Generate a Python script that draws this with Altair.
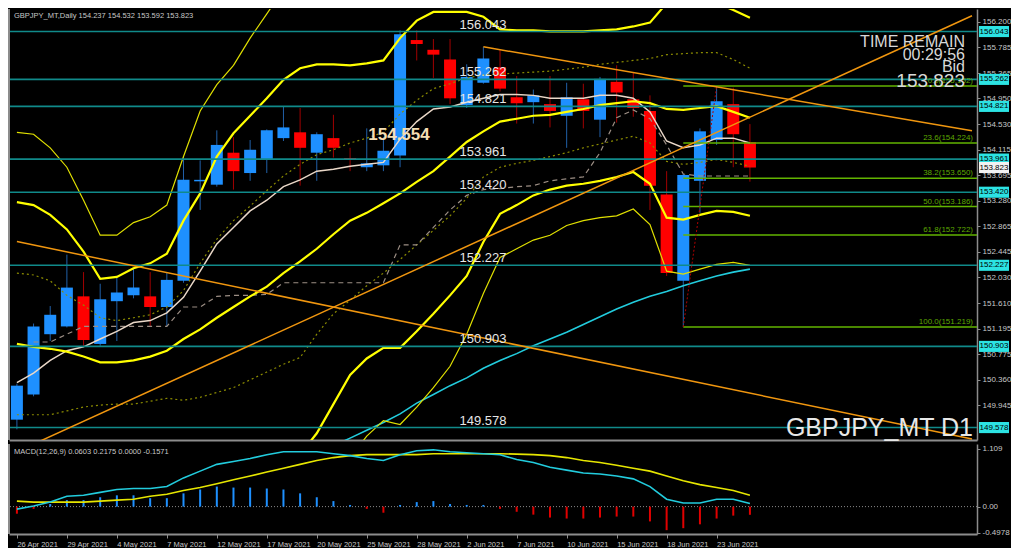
import altair as alt
import pandas as pd

# ---------------- data ----------------
DATE_LABELS = ["26 Apr 2021", "29 Apr 2021", "4 May 2021", "7 May 2021", "12 May 2021",
               "17 May 2021", "20 May 2021", "25 May 2021", "28 May 2021", "2 Jun 2021",
               "7 Jun 2021", "10 Jun 2021", "15 Jun 2021", "18 Jun 2021", "23 Jun 2021"]
DATE_TICKS = [0, 3, 6, 9, 12, 15, 18, 21, 24, 27, 30, 33, 36, 39, 42]

OPEN = [149.707, 150.119, 151.102, 151.229, 151.720, 150.943, 151.641, 151.736, 151.720, 151.546,
        151.974, 153.598, 153.543, 154.065, 153.733, 153.955, 154.303, 154.398, 154.065, 154.303,
        153.978, 153.828, 153.859, 154.018, 155.904, 155.745, 155.587, 154.842, 155.207, 155.460,
        154.969, 154.890, 154.858, 154.668, 154.937, 154.604, 155.222, 154.937, 154.747, 153.384,
        151.974, 153.606, 154.272, 154.858, 154.237]
HIGH = [150.294, 151.276, 151.562, 152.401, 152.116, 151.926, 152.021, 152.164, 152.116, 152.116,
        154.002, 153.939, 154.430, 154.319, 154.272, 154.446, 154.826, 154.795, 154.398, 154.684,
        154.145, 154.462, 154.319, 156.062, 156.062, 155.920, 155.920, 155.508, 155.793, 155.745,
        155.317, 155.096, 155.317, 155.207, 155.191, 155.302, 155.492, 155.381, 155.001, 153.764,
        153.717, 154.462, 155.152, 155.127, 154.532]
LOW = [149.549, 150.088, 150.991, 151.213, 150.912, 150.912, 150.991, 151.688, 151.229, 151.229,
       151.942, 153.131, 153.511, 153.463, 153.606, 153.733, 154.256, 153.527, 153.606, 153.986,
       153.764, 153.764, 153.764, 153.828, 155.571, 155.286, 154.858, 154.795, 155.191, 155.064,
       154.541, 154.541, 154.478, 154.145, 154.462, 154.319, 154.557, 154.652, 153.130, 152.053,
       151.219, 153.083, 154.192, 153.828, 153.592]
CLOSE = [150.262, 151.229, 151.419, 151.863, 151.007, 151.672, 151.783, 151.863, 151.546, 151.989,
         153.622, 153.622, 154.192, 153.764, 154.113, 154.430, 154.478, 154.145, 154.367, 154.145,
         153.962, 153.891, 154.097, 155.999, 155.840, 155.666, 154.953, 155.302, 155.603, 155.111,
         154.874, 155.001, 154.747, 154.969, 154.747, 155.270, 155.048, 154.795, 153.527, 152.100,
         153.701, 154.414, 154.905, 154.367, 153.823]

BB_UPPER = [153.257, 153.210, 153.051, 152.813, 152.449, 152.005, 152.037, 152.180, 152.259, 152.417,
            152.956, 153.400, 154.002, 154.382, 154.668, 154.953, 155.254, 155.444, 155.508, 155.508,
            155.492, 155.524, 155.571, 155.936, 156.221, 156.363, 156.363, 156.363, 156.284, 156.078,
            156.062, 156.062, 156.046, 156.046, 156.046, 156.062, 156.078, 156.126, 156.189, 156.506,
            156.569, 156.538, 156.506, 156.395, 156.268]
BB_MID = [150.943, 150.896, 150.864, 150.817, 150.737, 150.642, 150.642, 150.674, 150.737, 150.833,
          151.023, 151.181, 151.371, 151.546, 151.720, 151.878, 152.100, 152.291, 152.497, 152.734,
          152.956, 153.083, 153.241, 153.400, 153.590, 153.764, 154.002, 154.240, 154.414, 154.573,
          154.620, 154.668, 154.684, 154.731, 154.779, 154.842, 154.874, 154.905, 154.874, 154.779,
          154.763, 154.795, 154.826, 154.731, 154.636]
BB_LOWER = [148.630, 148.582, 148.677, 148.820, 149.026, 149.279, 149.248, 149.168, 149.216, 149.248,
            149.089, 148.962, 148.741, 148.709, 148.772, 148.804, 148.947, 149.137, 149.485, 149.961,
            150.436, 150.706, 150.880, 150.880, 151.149, 151.435, 151.736, 152.053, 152.607, 153.067,
            153.210, 153.368, 153.463, 153.527, 153.558, 153.606, 153.669, 153.749, 153.558, 153.004,
            152.972, 153.051, 153.115, 153.099, 153.035]
BB1_UPPER = [152.100, 152.069, 151.974, 151.736, 151.577, 151.371, 151.324, 151.371, 151.419, 151.546,
             151.815, 152.259, 152.655, 152.956, 153.194, 153.447, 153.685, 153.875, 154.034, 154.113,
             154.224, 154.303, 154.398, 154.699, 154.921, 155.111, 155.191, 155.286, 155.333, 155.349,
             155.365, 155.381, 155.397, 155.428, 155.460, 155.508, 155.539, 155.571, 155.603, 155.666,
             155.682, 155.698, 155.698, 155.587, 155.444]
BB1_LOWER = [149.787, 149.787, 149.787, 149.850, 149.913, 149.945, 149.961, 149.961, 150.008, 150.056,
             150.024, 150.072, 150.151, 150.230, 150.357, 150.484, 150.611, 150.722, 151.102, 151.435,
             151.657, 151.894, 152.100, 152.322, 152.560, 152.798, 153.035, 153.321, 153.669, 153.828,
             153.891, 153.939, 154.002, 154.065, 154.145, 154.208, 154.272, 154.335, 154.224, 153.923,
             153.875, 153.907, 153.955, 153.907, 153.844]
ENV_UPPER_START = 0
ENV_UPPER = [154.398, 154.367, 154.145, 153.828, 153.289, 152.718, 152.718, 152.924, 153.020, 153.210,
             154.002, 154.747, 155.175, 155.492, 155.936, 156.332, 156.728, 157.045]
ENV_LOWER_START = 20
ENV_LOWER = [149.089, 149.438, 149.691, 149.628, 149.913, 150.230, 150.579, 151.102, 151.768, 152.354,
             152.497, 152.639, 152.718, 152.877, 152.956, 153.004, 153.035, 153.146, 152.893, 152.132,
             152.084, 152.164, 152.243, 152.275, 152.227]
MA_FAST = [150.310, 150.468, 150.674, 150.833, 150.896, 151.023, 151.149, 151.292, 151.324, 151.451,
           151.704, 152.132, 152.576, 152.845, 153.115, 153.289, 153.511, 153.622, 153.764, 153.796,
           153.844, 153.875, 153.907, 154.287, 154.573, 154.779, 154.810, 154.890, 154.953, 155.016,
           155.016, 155.001, 154.953, 154.953, 154.953, 155.001, 155.001, 154.953, 154.731, 154.256,
           154.145, 154.192, 154.303, 154.303, 154.224]
KIJUN_START = 1
KIJUN = [150.975, 150.975, 151.102, 151.229, 151.229, 151.229, 151.229, 151.229, 151.229, 151.546,
         151.546, 151.720, 151.736, 151.736, 151.752, 151.942, 151.942, 151.942, 151.942, 151.942,
         151.942, 151.942, 152.560, 152.560, 152.845, 153.130, 153.368, 153.463, 153.479, 153.511,
         153.527, 153.606, 153.638, 153.669, 154.065, 154.636, 154.763, 154.620, 154.192, 153.717,
         153.685, 153.685, 153.685, 153.685]
MA_SLOW_START = 19
MA_SLOW = [149.279, 149.406, 149.533, 149.660, 149.802, 149.977, 150.119, 150.262, 150.389, 150.547,
           150.674, 150.785, 150.912, 151.023, 151.134, 151.260, 151.387, 151.514, 151.625, 151.720,
           151.799, 151.894, 151.974, 152.053, 152.116, 152.164]

TREND_DOWN_LONG_I = [0, 57.33]
TREND_DOWN_LONG_V = [152.614, 149.390]
TREND_UP_I = [0, 57.33]
TREND_UP_V = [149.184, 156.300]
TREND_DOWN_SHORT_I = [28, 57.33]
TREND_DOWN_SHORT_V = [155.793, 154.425]

LEVELS = [156.043, 155.262, 154.821, 153.961, 153.420, 152.227, 150.903, 149.578]
MARK_LABEL = 154.554
FIB_START = 40
FIB_SWING_I = [40, 42]
FIB_SWING_V = [151.219, 155.152]
FIB_PCT = ["0.0", "23.6", "38.2", "50.0", "61.8", "100.0"]
FIB_PRICE = [155.152, 154.224, 153.650, 153.186, 152.722, 151.219]

PRICE_TICKS = [156.200, 155.785, 155.365, 154.950, 154.530, 154.115, 153.695, 153.280, 152.865,
               152.445, 152.030, 151.610, 151.195, 150.775, 150.360, 149.945]

MACD_MAIN = [-0.048, 0.013, 0.087, 0.199, 0.217, 0.273, 0.329, 0.348, 0.348, 0.385,
             0.552, 0.682, 0.812, 0.868, 0.924, 0.998, 1.054, 1.054, 1.054, 1.017,
             0.980, 0.924, 0.887, 0.998, 1.073, 1.091, 1.054, 1.035, 1.017, 0.998,
             0.905, 0.849, 0.756, 0.701, 0.645, 0.626, 0.589, 0.533, 0.385, 0.143,
             0.069, 0.069, 0.143, 0.143, 0.0603]
MACD_SIGNAL = [0.106, 0.087, 0.087, 0.087, 0.087, 0.106, 0.125, 0.143, 0.199, 0.236,
               0.310, 0.366, 0.441, 0.515, 0.589, 0.664, 0.738, 0.812, 0.887, 0.942,
               0.980, 0.998, 0.998, 0.998, 0.998, 1.017, 1.017, 1.017, 1.017, 1.017,
               1.008, 0.998, 0.980, 0.942, 0.887, 0.849, 0.794, 0.738, 0.682, 0.589,
               0.496, 0.422, 0.366, 0.310, 0.2175]
MACD_HIST = [-0.136, -0.043, 0.050, 0.125, 0.125, 0.180, 0.217, 0.217, 0.162, 0.162,
             0.255, 0.329, 0.385, 0.366, 0.366, 0.348, 0.329, 0.255, 0.180, 0.106,
             0.032, -0.043, -0.117, 0.032, 0.087, 0.106, 0.050, 0.032, 0.032, -0.043,
             -0.099, -0.154, -0.210, -0.229, -0.229, -0.210, -0.191, -0.191, -0.284, -0.452,
             -0.414, -0.340, -0.229, -0.173, -0.1571]
MACD_TICKS = [1.109, 0.0, -0.4978]
MACD_TICK_LABELS = ["1.109", "0.00", "-0.4978"]

# ---------------- layout / style ----------------
W, H, MH = 968, 431, 90
XMIN, XMAX = -0.174, 57.33
YMIN, YMAX = 149.375, 156.411
MYMIN, MYMAX = -0.526, 1.203
FONT = "Liberation Sans"
NARROW = "Liberation Sans Narrow, Liberation Sans"
FRAME = "#8C8C8C"
LABEL = "#C8C8C8"

xs = alt.Scale(domain=[XMIN, XMAX], nice=False, zero=False)
ys = alt.Scale(domain=[YMIN, YMAX], nice=False, zero=False)
x_axis_main = alt.Axis(title=None, labels=False, ticks=False, grid=False,
                       domainColor=FRAME, domainWidth=2)
y_axis_main = alt.Axis(orient="right", title=None, values=PRICE_TICKS, format=".3f", grid=False,
                       labelColor=LABEL, labelFont=FONT, labelFontSize=8, labelPadding=2,
                       tickColor=FRAME, tickSize=3, domainColor=FRAME, domainWidth=1.5,
                       labelOverlap=False, labelBound=False, labelFlush=False)


def X(field="i"):
    return alt.X(f"{field}:Q", scale=xs, axis=x_axis_main)


def Y(field="v"):
    return alt.Y(f"{field}:Q", scale=ys, axis=y_axis_main)


def series(start, values):
    return pd.DataFrame({"i": list(range(start, start + len(values))), "v": values})


def line(df, color, width, dash=None):
    kw = dict(color=color, strokeWidth=width, clip=True)
    if dash:
        kw["strokeDash"] = dash
    return alt.Chart(df).mark_line(**kw).encode(x=X(), y=Y())


one = pd.DataFrame({"a": [0]})

# ---------------- main price panel ----------------
cdf = pd.DataFrame({"i": list(range(len(OPEN))), "o": OPEN, "h": HIGH, "l": LOW, "c": CLOSE})
cbase = alt.Chart(cdf)
UP, DOWN = "datum.c >= datum.o", "datum.c < datum.o"

layers = [
    cbase.transform_filter(UP).mark_rule(color="#2160A8", strokeWidth=1, clip=True)
    .encode(x=X(), y=Y("l"), y2="h"),
    cbase.transform_filter(DOWN).mark_rule(color="#A00000", strokeWidth=1, clip=True)
    .encode(x=X(), y=Y("l"), y2="h"),
    cbase.transform_filter(UP).mark_bar(size=12, color="#1E90FF", clip=True)
    .encode(x=X(), y=Y("o"), y2="c"),
    cbase.transform_filter(DOWN).mark_bar(size=12, color="#FF0000", clip=True)
    .encode(x=X(), y=Y("o"), y2="c"),
]

# indicators
layers += [
    line(series(0, BB1_UPPER), "#8C8C00", 1.2, [2, 3]),
    line(series(0, BB1_LOWER), "#8C8C00", 1.2, [2, 3]),
    line(series(KIJUN_START, KIJUN), "#9C8E84", 1.2, [5, 4]),
    line(series(MA_SLOW_START, MA_SLOW), "#22CCDD", 1.6),
    line(series(ENV_UPPER_START, ENV_UPPER), "#E0E000", 1.2),
    line(series(ENV_LOWER_START, ENV_LOWER), "#E0E000", 1.2),
    line(series(0, MA_FAST), "#EAD8C8", 1.5),
    line(series(0, BB_UPPER), "#FFFF00", 2.2),
    line(series(0, BB_MID), "#FFFF00", 2.2),
    line(series(0, BB_LOWER), "#FFFF00", 2.2),
]

# horizontal levels
lvl = pd.DataFrame({"v": LEVELS, "t": [f"{v:.3f}" for v in LEVELS]})
layers.append(alt.Chart(lvl).mark_rule(color="#108A8A", strokeWidth=1.6, clip=True).encode(y=Y()))

# fibonacci
fib = pd.DataFrame({"i": [FIB_START] * len(FIB_PRICE), "v": FIB_PRICE,
                    "t": [f"{p}({v:.3f})" for p, v in zip(FIB_PCT, FIB_PRICE)]})
layers.append(alt.Chart(fib).mark_rule(color="#62B300", strokeWidth=1.5, clip=True)
              .encode(x=X(), x2=alt.value(W), y=Y()))
layers.append(line(pd.DataFrame({"i": FIB_SWING_I, "v": FIB_SWING_V}), "#B00000", 1, [2, 2]))

# trendlines
for ti, tv in [(TREND_DOWN_LONG_I, TREND_DOWN_LONG_V), (TREND_UP_I, TREND_UP_V),
               (TREND_DOWN_SHORT_I, TREND_DOWN_SHORT_V)]:
    layers.append(line(pd.DataFrame({"i": ti, "v": tv}), "#F0960F", 1.5))

# texts
layers.append(alt.Chart(lvl).mark_text(color="#E6E6E6", font=FONT, fontSize=13, align="center",
                                       baseline="alphabetic", dy=-3)
              .encode(x=alt.value(474), y=Y(), text="t:N"))
layers.append(alt.Chart(fib).mark_text(color="#5EA800", font=FONT, fontSize=8, align="right",
                                       baseline="bottom", dy=-1)
              .encode(x=alt.value(964), y=Y(), text="t:N"))
layers.append(alt.Chart(pd.DataFrame({"v": [MARK_LABEL], "t": [f"{MARK_LABEL:.3f}"]}))
              .mark_text(color="#F5DEB3", font=FONT, fontSize=17, fontWeight="bold", align="center",
                         baseline="top", dy=4)
              .encode(x=alt.value(390), y=Y(), text="t:N"))

title_txt = f"GBPJPY_MT,Daily  {OPEN[-1]:.3f} {HIGH[-1]:.3f} {LOW[-1]:.3f} {CLOSE[-1]:.3f}"
overlay = [
    (title_txt, 5, 9, 7.5, "left", FONT, LABEL),
    ("TIME REMAIN", 956, 38, 16, "right", NARROW, "#D8D8D8"),
    ("00:29:56", 956, 51, 16, "right", NARROW, "#D8D8D8"),
    ("Bid", 956, 63, 16, "right", NARROW, "#D8D8D8"),
    (f"{CLOSE[-1]:.3f}", 956, 78, 19, "right", NARROW, "#D8D8D8"),
    ("GBPJPY_MT D1", 964, 427, 25, "right", NARROW, "#E8E8E8"),
]
for txt, px, py, fs, al, fnt, col in overlay:
    layers.append(alt.Chart(one).mark_text(text=txt, font=fnt, fontSize=fs, align=al,
                                           baseline="alphabetic", color=col)
                  .encode(x=alt.value(px), y=alt.value(py)))

# price tags on the axis
BOX = "M-1,-0.37L1,-0.37L1,0.37L-1,0.37Z"
layers.append(alt.Chart(lvl).mark_point(shape=BOX, size=900, filled=True, color="#2CE3E3", opacity=1)
              .encode(x=alt.value(W + 17), y=Y()))
layers.append(alt.Chart(lvl).mark_text(color="#000000", font=FONT, fontSize=8, align="center",
                                       baseline="middle")
              .encode(x=alt.value(W + 17), y=Y(), text="t:N"))
bid = pd.DataFrame({"v": [CLOSE[-1]], "t": [f"{CLOSE[-1]:.3f}"]})
layers.append(alt.Chart(bid).mark_point(shape=BOX, size=900, filled=True, color="#F2F2F2", opacity=1)
              .encode(x=alt.value(W + 17), y=Y()))
layers.append(alt.Chart(bid).mark_text(color="#000000", font=FONT, fontSize=8, align="center",
                                       baseline="middle")
              .encode(x=alt.value(W + 17), y=Y(), text="t:N"))

layers.append(alt.Chart(one).mark_rule(color=FRAME, strokeWidth=2)
              .encode(x=alt.value(0), y=alt.value(0), y2=alt.value(H)))

main = alt.layer(*layers).properties(width=W, height=H)

# ---------------- MACD panel ----------------
mys = alt.Scale(domain=[MYMIN, MYMAX], nice=False, zero=False)
date_expr = "[" + ",".join(f"'{d}'" for d in DATE_LABELS) + "][round(datum.value / 3)]"
macd_expr = ("[" + ",".join(f"'{t}'" for t in MACD_TICK_LABELS) + "][indexof(["
             + ",".join(str(v) for v in MACD_TICKS) + "], datum.value)]")
mx_axis = alt.Axis(title=None, values=DATE_TICKS, labelExpr=date_expr, labelAlign="left",
                   labelPadding=2, labelColor=LABEL, labelFont=FONT, labelFontSize=7.5,
                   tickColor=FRAME, tickSize=4, domainColor=FRAME, domainWidth=2, grid=False,
                   labelOverlap=False, labelFlush=False, labelBound=False)
my_axis = alt.Axis(orient="right", title=None, values=MACD_TICKS, labelExpr=macd_expr, grid=False,
                   labelColor=LABEL, labelFont=FONT, labelFontSize=8, labelPadding=2,
                   tickColor=FRAME, tickSize=3, domainColor=FRAME, domainWidth=1.5,
                   labelOverlap=False, labelBound=False, labelFlush=False)


def MX():
    return alt.X("i:Q", scale=xs, axis=mx_axis)


def MY(field="v"):
    return alt.Y(f"{field}:Q", scale=mys, axis=my_axis)


hdf = series(0, MACD_HIST)
mlayers = [
    alt.Chart(pd.DataFrame({"v": [0.0]})).mark_rule(color="#8A8A8A", strokeDash=[1, 2], strokeWidth=1)
    .encode(y=MY()),
    alt.Chart(hdf).transform_filter("datum.v >= 0").mark_bar(size=2, color="#1E90FF", clip=True)
    .encode(x=MX(), y=MY(), y2=alt.datum(0)),
    alt.Chart(hdf).transform_filter("datum.v < 0").mark_bar(size=2, color="#E00000", clip=True)
    .encode(x=MX(), y=MY(), y2=alt.datum(0)),
    alt.Chart(series(0, MACD_SIGNAL)).mark_line(color="#E6E600", strokeWidth=1.6, clip=True)
    .encode(x=MX(), y=MY()),
    alt.Chart(series(0, MACD_MAIN)).mark_line(color="#22CCDD", strokeWidth=1.6, clip=True)
    .encode(x=MX(), y=MY()),
    alt.Chart(one).mark_text(
        text=f"MACD(12,26,9) {MACD_MAIN[-1]:.4f} {MACD_SIGNAL[-1]:.4f} 0.0000 {MACD_HIST[-1]:.4f}",
        font=FONT, fontSize=7.5, align="left", baseline="alphabetic", color=LABEL)
    .encode(x=alt.value(5), y=alt.value(10)),
    alt.Chart(one).mark_rule(color=FRAME, strokeWidth=2)
    .encode(x=alt.value(0), y=alt.value(0), y2=alt.value(MH)),
]
macd = alt.layer(*mlayers).properties(width=W, height=MH)

chart = (alt.vconcat(main, macd, spacing=2)
         .properties(padding=0)
         .configure(background="#000000")
         .configure_view(stroke=None))

chart.save("out.html", embed_options={"renderer": "svg", "actions": False})
